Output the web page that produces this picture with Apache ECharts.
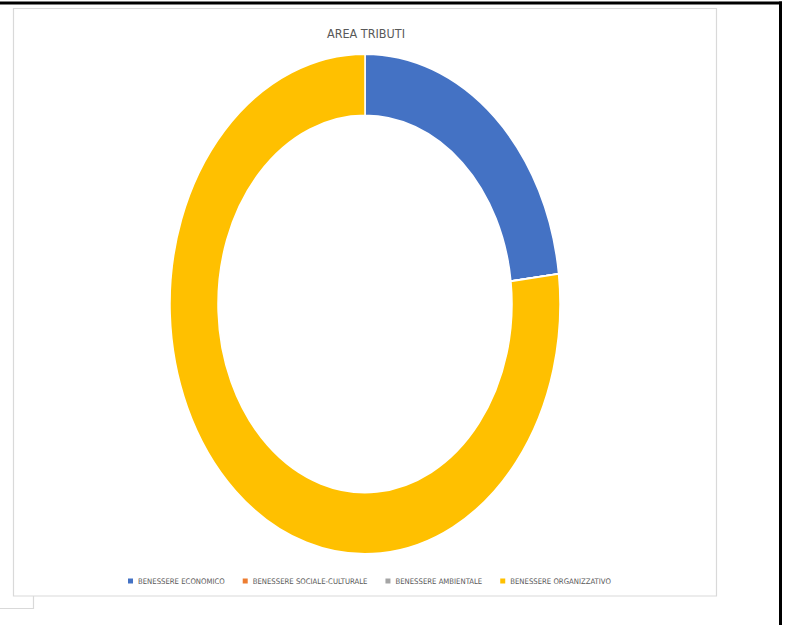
<!DOCTYPE html>
<html>
<head>
<meta charset="utf-8">
<script src="https://cdn.jsdelivr.net/npm/echarts@6/dist/echarts.min.js"></script>
<style>
  html, body { margin: 0; padding: 0; background: #ffffff; }
  #wrap { position: relative; width: 792px; height: 625px; overflow: hidden; }
  #bg { position: absolute; left: 0; top: 0; width: 792px; height: 625px; }
  #pie { position: absolute; left: 165px; top: 104px; width: 400px; height: 400px;
         transform: scaleY(1.282); transform-origin: 50% 50%; }
</style>
</head>
<body>
<div id="wrap">
  <div id="bg"></div>
  <div id="pie"></div>
</div>
<script>
const titleText = 'AREA TRIBUTI';
const categories = ['BENESSERE ECONOMICO', 'BENESSERE SOCIALE-CULTURALE', 'BENESSERE AMBIENTALE', 'BENESSERE ORGANIZZATIVO'];
const values = [3, 0, 0, 10];
const colors = ['#4472C4', '#ED7D31', '#A5A5A5', '#FFC000'];

const FONT = "'Liberation Sans Narrow', 'DejaVu Sans Condensed', 'Arial Narrow', sans-serif";
const seriesData = categories.map((c, i) => ({ name: c, value: values[i], itemStyle: { color: colors[i] } }));

const bg = echarts.init(document.getElementById('bg'), null, { renderer: 'svg' });
bg.setOption({
  animation: false,
  backgroundColor: 'transparent',
  title: {
    text: titleText,
    left: 322, top: 22,
    textStyle: { fontFamily: FONT, fontSize: 12.5, fontWeight: 'normal', color: '#595959' }
  },
  legend: {
    data: categories,
    left: 123,
    top: 572,
    itemWidth: 5, itemHeight: 5,
    itemGap: 18,
    icon: 'rect',
    textStyle: { fontFamily: FONT, fontSize: 7.7, color: '#595959' },
    selectedMode: false
  },
  graphic: [
    { type: 'rect', shape: { x: 13.5, y: 8.5, width: 703, height: 587.5 }, style: { fill: 'none', stroke: '#D9D9D9', lineWidth: 1.2 }, silent: true },
    { type: 'polyline', shape: { points: [[33.5, 596], [33.5, 608.5], [0, 608.5]] }, style: { fill: 'none', stroke: '#D9D9D9', lineWidth: 1.2 }, silent: true },
    { type: 'rect', shape: { x: 0, y: 1.5, width: 782, height: 3 }, style: { fill: '#000000' }, silent: true },
    { type: 'rect', shape: { x: 779, y: 1.5, width: 3, height: 625 }, style: { fill: '#000000' }, silent: true }
  ],
  series: [{
    type: 'pie',
    radius: [0, 0],
    center: [-100, -100],
    silent: true,
    label: { show: false },
    labelLine: { show: false },
    data: seriesData
  }]
});

const pie = echarts.init(document.getElementById('pie'), null, { renderer: 'svg' });
pie.setOption({
  animation: false,
  backgroundColor: 'transparent',
  series: [{
    type: 'pie',
    radius: [147, 195],
    center: ['50%', '50%'],
    startAngle: 90,
    clockwise: true,
    silent: true,
    label: { show: false },
    labelLine: { show: false },
    itemStyle: { borderColor: '#ffffff', borderWidth: 1.5 },
    data: seriesData
  }]
});
</script>
</body>
</html>
